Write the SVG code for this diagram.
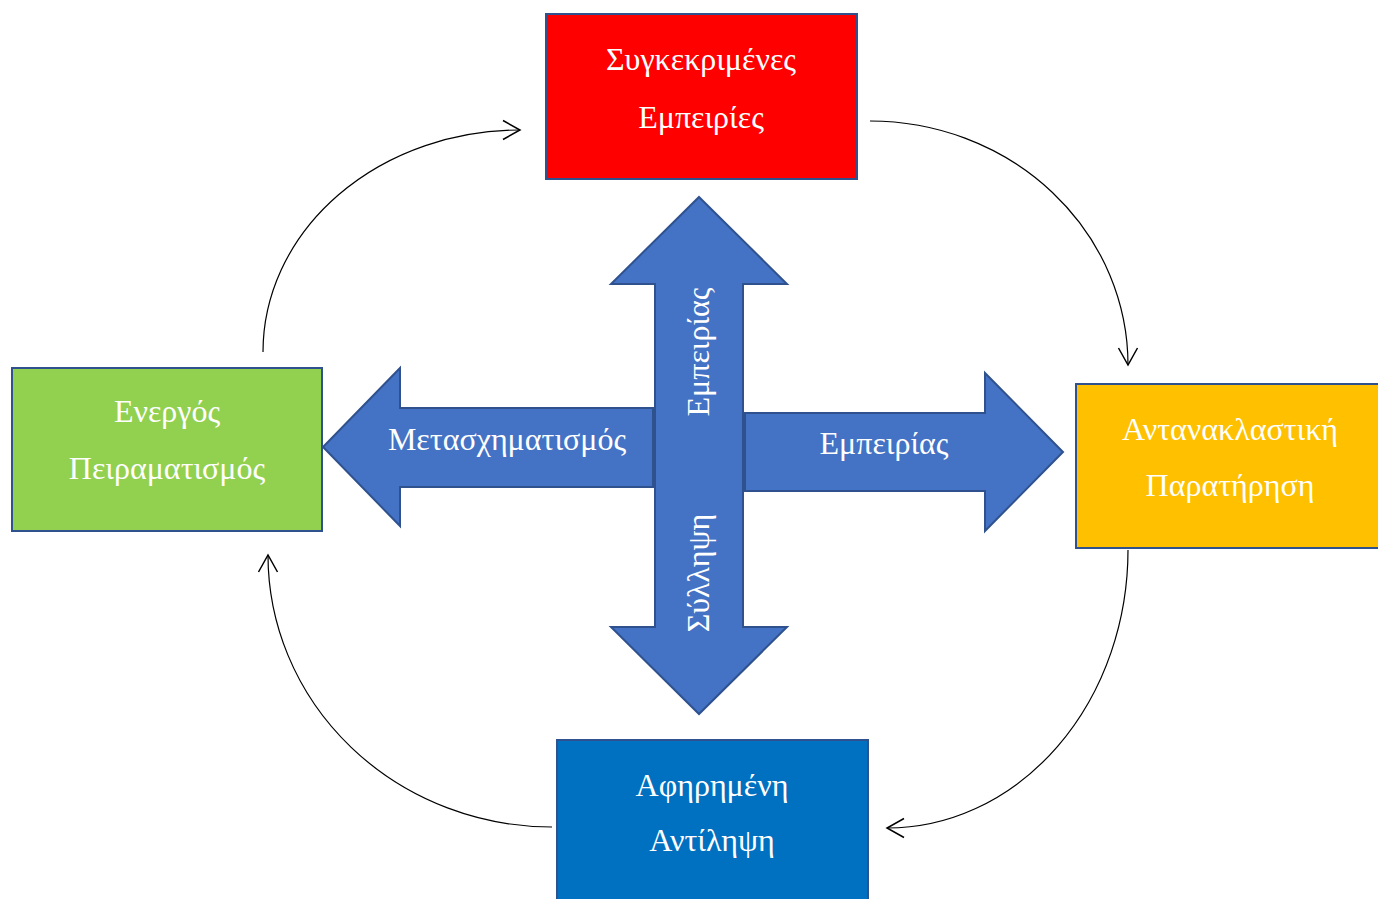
<svg xmlns="http://www.w3.org/2000/svg" width="1378" height="899" viewBox="0 0 1378 899">
<style>
.box{stroke:#2F528F;stroke-width:2}
.arr{fill:#4472C4;stroke:#2F528F;stroke-width:2;stroke-linejoin:miter}
.t{font-family:"Liberation Serif","DejaVu Serif",serif;font-size:32px;fill:#FFFFFF;text-anchor:middle}
.c{fill:none;stroke:#000000;stroke-width:1.2}
</style>
<defs>
<marker id="ah" markerUnits="userSpaceOnUse" markerWidth="20" markerHeight="22" viewBox="0 0 20 22" refX="18" refY="11" orient="auto">
<path d="M1,1.5 L18,11 L1,20.5" fill="none" stroke="#000000" stroke-width="1.5"/>
</marker>
</defs>
<rect width="1378" height="899" fill="#FFFFFF"/>
<g id="connectors">
<path class="c" d="M263,352 A257,222 0 0 1 520,130" marker-end="url(#ah)"/>
<path class="c" d="M870,121 A258,244 0 0 1 1128,365" marker-end="url(#ah)"/>
<path class="c" d="M1128,550 A241,278 0 0 1 887,828" marker-end="url(#ah)"/>
<path class="c" d="M552,827 A284,272 0 0 1 268,555" marker-end="url(#ah)"/>
</g>
<g id="arrow-left">
<path class="arr" d="M653,408 L400,408 L400,368 L323,447 L400,526 L400,487 L653,487 Z"/>
<text class="t" x="507" y="450">Μετασχηματισμός</text>
</g>
<g id="arrow-right">
<path class="arr" d="M745,413 L985,413 L985,373 L1063,452 L985,531 L985,491 L745,491 Z"/>
<text class="t" x="884" y="454">Εμπειρίας</text>
</g>
<g id="arrow-vertical">
<path class="arr" d="M699,197 L787,284 L743,284 L743,627 L787,627 L699,714 L611,627 L655,627 L655,284 L611,284 Z"/>
<text class="t" transform="translate(709,352) rotate(-90)">Εμπειρίας</text>
<text class="t" transform="translate(709,573) rotate(-90)">Σύλληψη</text>
</g>
<g id="node-concrete">
<rect class="box" x="546" y="14" width="311" height="165" fill="#FF0000"/>
<text class="t" x="701" y="70">Συγκεκριμένες</text>
<text class="t" x="701" y="128">Εμπειρίες</text>
</g>
<g id="node-active">
<rect class="box" x="12" y="368" width="310" height="163" fill="#92D050"/>
<text class="t" x="167" y="422">Ενεργός</text>
<text class="t" x="167" y="479">Πειραματισμός</text>
</g>
<g id="node-reflective">
<rect class="box" x="1076" y="384" width="310" height="164" fill="#FFC000"/>
<text class="t" x="1230" y="440">Αντανακλαστική</text>
<text class="t" x="1230" y="496">Παρατήρηση</text>
</g>
<g id="node-abstract">
<rect class="box" x="557" y="740" width="311" height="170" fill="#0070C0"/>
<text class="t" x="712" y="796">Αφηρημένη</text>
<text class="t" x="712" y="851">Αντίληψη</text>
</g>
</svg>
